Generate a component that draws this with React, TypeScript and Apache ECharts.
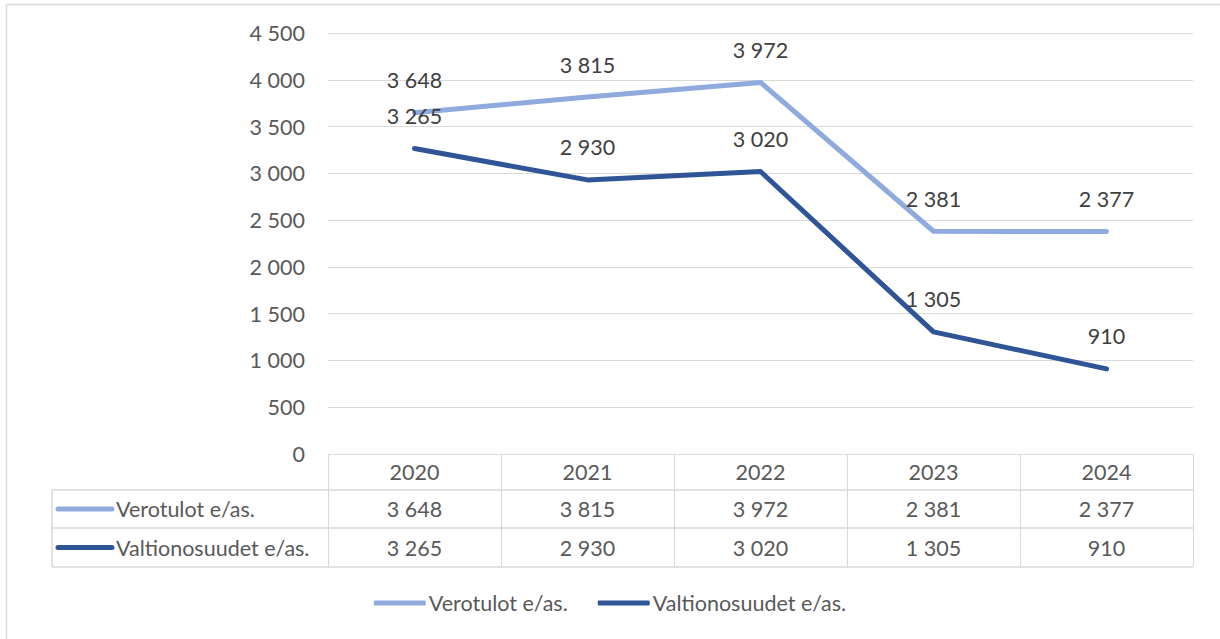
import React, { useEffect, useRef } from "react";
import * as echarts from "echarts";

const years = ["2020", "2021", "2022", "2023", "2024"];
const verotulot = [3648, 3815, 3972, 2381, 2377];
const valtionosuudet = [3265, 2930, 3020, 1305, 910];
const seriesNames = ["Verotulot e/as.", "Valtionosuudet e/as."];
const seriesColors = ["#8FAADC", "#2F5597"];

const FONT = "Lato, 'Open Sans', sans-serif";
const FS = 21.5;
const fmt = (v: number) => String(v).replace(/\B(?=(\d{3})+(?!\d))/g, " ");

const GRID_LEFT = 328;
const GRID_RIGHT_X = 1193;
const AXIS_Y = 454;
const ROW_LINES = [490, 528, 567];
const TABLE_LEFT = 52;

export default function App() {
  const ref = useRef<HTMLDivElement>(null);
  useEffect(() => {
    if (!ref.current) return;
    const chart = echarts.init(ref.current, undefined, { renderer: "svg" });
    const allSeries = [verotulot, valtionosuudet];
    chart.setOption({
      animation: false,
      backgroundColor: "#ffffff",
      textStyle: { fontFamily: FONT },
      grid: { left: GRID_LEFT, right: 1220 - GRID_RIGHT_X, top: 33, bottom: 639 - AXIS_Y },
      legend: {
        bottom: 20,
        left: "center",
        icon: "roundRect",
        itemWidth: 52,
        itemHeight: 5,
        itemGap: 30,
        textStyle: { fontFamily: FONT, fontSize: FS, color: "#595959", padding: [0, 0, 0, -2] },
        data: seriesNames,
      },
      xAxis: {
        type: "category",
        data: years,
        boundaryGap: true,
        axisLine: { show: true, lineStyle: { color: "#d9d9d9", width: 1 } },
        axisTick: { show: true, length: ROW_LINES[2] - AXIS_Y, lineStyle: { color: "#d9d9d9", width: 1 } },
        axisLabel: { fontFamily: FONT, fontSize: FS, color: "#595959", margin: 7 },
      },
      yAxis: {
        type: "value",
        min: 0,
        max: 4500,
        interval: 500,
        axisLine: { show: false },
        axisTick: { show: false },
        splitLine: { lineStyle: { color: "#d9d9d9", width: 1 } },
        axisLabel: { fontFamily: FONT, fontSize: FS, color: "#595959", margin: 23, formatter: (v: number) => fmt(v) },
      },
      series: allSeries.map((d, i) => ({
        name: seriesNames[i],
        type: "line",
        data: d,
        symbol: "circle",
        symbolSize: 1,
        itemStyle: { color: seriesColors[i] },
        lineStyle: { color: seriesColors[i], width: 5, cap: "round", join: "round" },
        label: {
          show: true,
          position: "top",
          distance: 21,
          fontFamily: FONT,
          fontSize: FS,
          color: "#404040",
          formatter: (p: any) => fmt(p.value),
        },
      })),
    });

    const graphics: any[] = [];
    graphics.push({ type: "line", shape: { x1: 6.5, y1: 4.5, x2: 1220, y2: 4.5 }, style: { stroke: "#d9d9d9", lineWidth: 1.5 } });
    graphics.push({ type: "line", shape: { x1: 6.5, y1: 4.5, x2: 6.5, y2: 639 }, style: { stroke: "#d9d9d9", lineWidth: 1.5 } });
    ROW_LINES.forEach((y) => {
      graphics.push({ type: "line", shape: { x1: TABLE_LEFT, y1: y, x2: GRID_RIGHT_X, y2: y }, style: { stroke: "#d9d9d9", lineWidth: 1.5 } });
    });
    graphics.push({ type: "line", shape: { x1: TABLE_LEFT, y1: ROW_LINES[0], x2: TABLE_LEFT, y2: ROW_LINES[2] }, style: { stroke: "#d9d9d9", lineWidth: 1.5 } });
    allSeries.forEach((d, r) => {
      const yc = (ROW_LINES[r] + ROW_LINES[r + 1]) / 2;
      graphics.push({ type: "line", shape: { x1: 58, y1: yc, x2: 112, y2: yc }, style: { stroke: seriesColors[r], lineWidth: 5, lineCap: "round" } });
      graphics.push({ type: "text", x: 116, y: yc, style: { text: seriesNames[r], fontFamily: FONT, fontSize: FS, fill: "#595959", verticalAlign: "middle", align: "left" } });
      d.forEach((v, i) => {
        const x = chart.convertToPixel({ xAxisIndex: 0 }, years[i]) as number;
        graphics.push({ type: "text", x, y: yc, style: { text: fmt(v), fontFamily: FONT, fontSize: FS, fill: "#595959", verticalAlign: "middle", align: "center" } });
      });
    });
    chart.setOption({ graphic: graphics });
    return () => chart.dispose();
  }, []);
  return <div ref={ref} style={{ position: "fixed", left: 0, top: 0, width: 1220, height: 639 }} />;
}
